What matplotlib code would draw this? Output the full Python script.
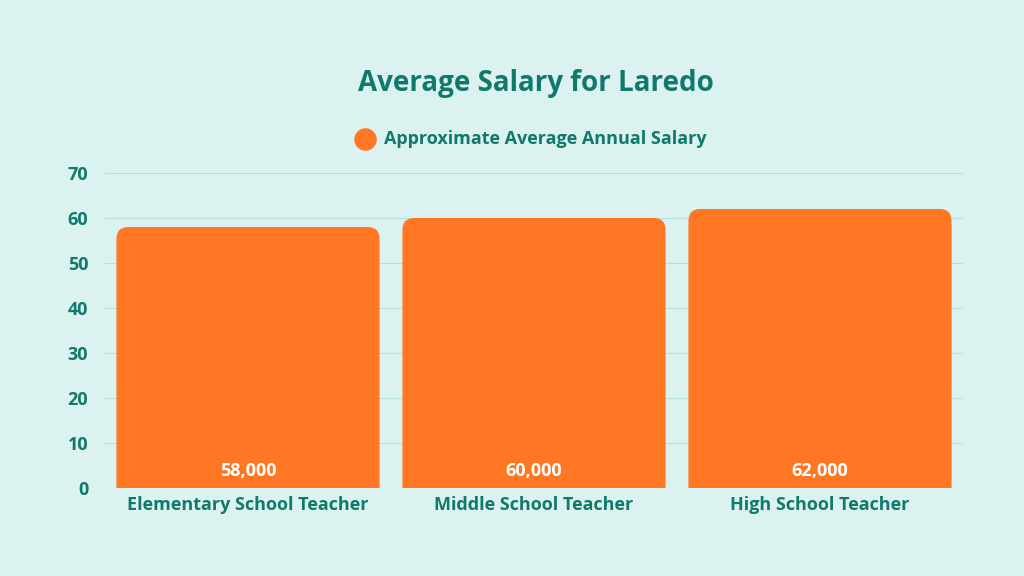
import matplotlib
matplotlib.use("Agg")
import matplotlib.pyplot as plt
from matplotlib.patches import FancyBboxPatch

categories = ["Elementary School Teacher", "Middle School Teacher", "High School Teacher"]
values = [58, 60, 62]
labels = ["58,000", "60,000", "62,000"]
yticks = [0, 10, 20, 30, 40, 50, 60, 70]

bg = "#dcf2f0"
teal = "#0f7a6c"
orange = "#ff7722"
plt.rcParams['font.family'] = ['Open Sans', 'DejaVu Sans']

fig = plt.figure(figsize=(10.24, 5.76), dpi=100, facecolor=bg)
ax = fig.add_axes([105/1024, 88/576, 858/1024, 315/576], facecolor=bg)
ax.set_xlim(-0.5, 2.5)
ax.set_ylim(0, 70)
ax.set_yticks(yticks)
ax.grid(axis='y', color="#b9dfdc", linewidth=0.8)
ax.set_axisbelow(True)
for s in ax.spines.values():
    s.set_visible(False)
ax.tick_params(length=0, labelsize=13, labelcolor=teal, pad=12)
for t in ax.get_yticklabels():
    t.set_fontweight('bold')

w = 0.92
r = 0.042
asp = (70/315) / (3/858)
for i, v in enumerate(values):
    p = FancyBboxPatch((i - w/2, -5), w, v + 5,
                       boxstyle=f"round,pad=0,rounding_size={r}",
                       mutation_aspect=asp, facecolor=orange, edgecolor='none',
                       clip_on=True, zorder=2)
    ax.add_patch(p)
    ax.text(i, 1.8, labels[i], ha='center', va='bottom', color='white',
            fontsize=13, fontweight='bold', zorder=3)

ax.set_xticks(range(len(categories)))
ax.set_xticklabels(categories, fontweight='bold', fontsize=13)
ax.tick_params(axis='x', pad=6)

fig.text(0.523, 0.855, "Average Salary for Laredo", ha='center', va='center',
         color=teal, fontsize=20, fontweight='bold')
fig.scatter([365/1024], [1 - 139/576], s=220, color=orange, transform=fig.transFigure) if hasattr(fig, 'scatter') else None
fig.patches.append(plt.Circle((365/1024, 1 - 139/576), 0.0, transform=fig.transFigure))
lax = fig.add_axes([0, 0, 1, 1], facecolor='none')
lax.set_xlim(0, 1024); lax.set_ylim(576, 0); lax.axis('off')
lax.scatter([365], [139], s=230, color=orange)
lax.text(384, 139, "Approximate Average Annual Salary", va='center', ha='left',
         color=teal, fontsize=13, fontweight='bold')

fig.savefig("out.png", dpi=100, facecolor=bg)
